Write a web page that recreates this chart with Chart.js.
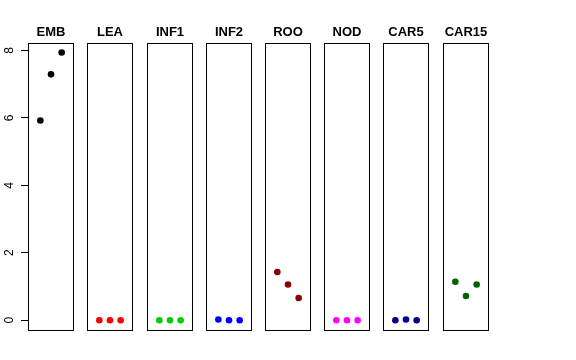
<!DOCTYPE html>
<html>
<head>
<meta charset="utf-8">
<script src="https://cdn.jsdelivr.net/npm/chart.js@4"></script>
<style>
  body{margin:0;background:#fff;}
  #wrap{position:relative;width:576px;height:360px;overflow:hidden;}
  #wrap canvas{position:absolute;top:0;}
</style>
</head>
<body>
<div id="wrap"></div>
<script>
const panels = ['EMB','LEA','INF1','INF2','ROO','NOD','CAR5','CAR15'];
const xValues = [1, 2, 3];
const embValues   = [5.92, 7.29, 7.94];
const leaValues   = [0, 0, 0];
const inf1Values  = [0, 0, 0];
const inf2Values  = [0.02, 0, 0];
const rooValues   = [1.43, 1.06, 0.66];
const nodValues   = [0, 0, 0];
const car5Values  = [0, 0.02, 0];
const car15Values = [1.14, 0.72, 1.06];
const yTicks = [0, 2, 4, 6, 8];

const series = [embValues, leaValues, inf1Values, inf2Values, rooValues, nodValues, car5Values, car15Values];
const colors = ['#000000','#ff0000','#00cd00','#0000ff','#8b0000','#ff00ff','#00008b','#006400'];
const boxLeft = [28, 87, 147, 206, 265, 324, 383, 443];
const axisWidth = 28;

// R-style box round each panel
const boxPlugin = {
  id: 'panelBox',
  afterDraw(chart){
    const a = chart.chartArea, c = chart.ctx;
    c.save();
    c.strokeStyle = '#000';
    c.lineWidth = 1;
    c.strokeRect(Math.round(a.left) + 0.5, Math.round(a.top) + 0.5,
                 Math.round(a.right - a.left) - 1, Math.round(a.bottom - a.top) - 1);
    c.restore();
  }
};

const wrap = document.getElementById('wrap');

panels.forEach((name, i) => {
  const first = i === 0;
  const cv = document.createElement('canvas');
  const w = first ? boxLeft[0] + 46 : 46;
  cv.width = w; cv.height = 360;
  cv.style.left = (first ? 0 : boxLeft[i]) + 'px';
  cv.style.width = w + 'px'; cv.style.height = '360px';
  wrap.appendChild(cv);

  new Chart(cv, {
    type: 'scatter',
    data: {
      datasets: [{
        data: series[i].map((v, k) => ({ x: xValues[k], y: v })),
        backgroundColor: colors[i],
        borderWidth: 0,
        pointRadius: 3.3,
        pointHoverRadius: 3.3
      }]
    },
    options: {
      responsive: false,
      animation: false,
      devicePixelRatio: 1,
      layout: { autoPadding: false, padding: { left: 0, right: 0, top: 0, bottom: 29 } },
      plugins: {
        legend: { display: false },
        tooltip: { enabled: false },
        title: {
          display: true,
          text: name,
          fullSize: false,
          color: '#000',
          font: { family: '"Liberation Sans", Arial, sans-serif', size: 13, weight: 'bold' },
          padding: { top: 24.5, bottom: 2.9 }
        }
      },
      scales: {
        x: {
          type: 'linear',
          display: false,
          min: -0.16,
          max: 4.16
        },
        y: {
          type: 'linear',
          display: first,
          min: -0.32,
          max: 8.22,
          afterBuildTicks: s => { s.ticks = yTicks.map(v => ({ value: v })); },
          afterFit: s => { if (first) s.width = axisWidth; },
          border: { display: false },
          grid: { drawOnChartArea: false, tickLength: 7, color: '#000', tickColor: '#000' },
          ticks: {
            color: '#000',
            minRotation: 90,
            maxRotation: 90,
            crossAlign: 'center',
            padding: 8,
            font: { family: '"Liberation Sans", Arial, sans-serif', size: 12 }
          }
        }
      }
    },
    plugins: [boxPlugin]
  });
});
</script>
</body>
</html>
